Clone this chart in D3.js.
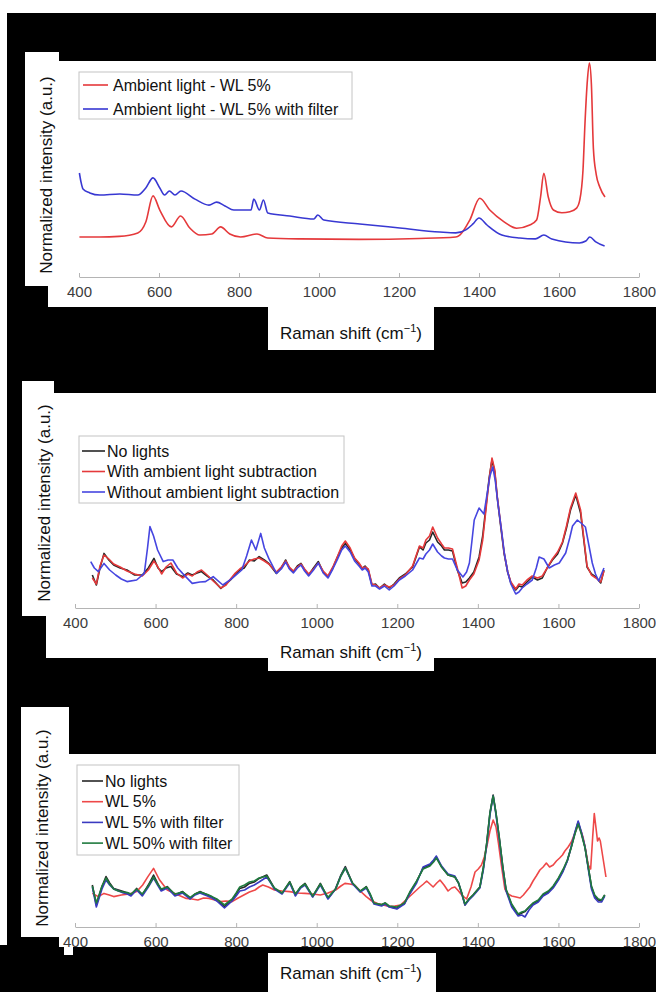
<!DOCTYPE html>
<html>
<head>
<meta charset="utf-8">
<script src="https://cdn.jsdelivr.net/npm/d3@7"></script>
<style>
  body { margin: 0; background: #000; }
  svg { display: block; }
  text { font-family: "Liberation Sans", Arial, sans-serif; }
</style>
</head>
<body>
<svg width="656" height="992"></svg>
<script>
// ---- data (x = Raman shift in cm-1, v = normalized intensity) ----
const xTicks = [400, 600, 800, 1000, 1200, 1400, 1600, 1800];

const p1Labels = ["Ambient light - WL 5%", "Ambient light - WL 5% with filter"];
const p1Red = [[401,0.187],[452,0.187],[500,0.19],[547,0.206],[567,0.257],[585,0.379],[602,0.313],[631,0.234],[654,0.285],[677,0.229],[702,0.196],[732,0.201],[754,0.234],[777,0.201],[804,0.187],[845,0.201],[872,0.182],[952,0.178],[1100,0.176],[1250,0.18],[1342,0.187],[1352,0.196],[1377,0.266],[1402,0.368],[1427,0.313],[1461,0.26],[1494,0.228],[1527,0.243],[1544,0.266],[1554,0.375],[1562,0.485],[1573,0.375],[1586,0.313],[1607,0.3],[1627,0.305],[1644,0.322],[1652,0.36],[1660,0.5],[1665,0.72],[1671,0.92],[1676,1.0],[1681,0.9],[1686,0.6],[1693,0.48],[1702,0.42],[1715,0.374]];
const p1Blue = [[401,0.486],[405,0.444],[410,0.411],[427,0.393],[452,0.383],[502,0.388],[547,0.383],[567,0.416],[585,0.463],[602,0.416],[614,0.383],[626,0.402],[640,0.383],[655,0.402],[690,0.364],[725,0.336],[744,0.35],[765,0.332],[787,0.313],[830,0.313],[837,0.364],[851,0.313],[861,0.36],[872,0.299],[927,0.285],[987,0.271],[997,0.29],[1012,0.266],[1102,0.248],[1202,0.229],[1302,0.21],[1342,0.206],[1367,0.22],[1385,0.248],[1400,0.276],[1420,0.243],[1457,0.196],[1502,0.182],[1541,0.178],[1562,0.196],[1582,0.178],[1651,0.159],[1667,0.168],[1677,0.187],[1692,0.164],[1714,0.145]];

const p2Labels = ["No lights", "With ambient light subtraction", "Without ambient light subtraction"];
const p2Black = [[443,0.165],[453,0.115],[462,0.2],[472,0.273],[484,0.24],[496,0.215],[512,0.2],[529,0.19],[548,0.165],[567,0.165],[582,0.2],[596,0.248],[606,0.2],[615,0.182],[626,0.2],[638,0.207],[652,0.17],[667,0.157],[680,0.175],[691,0.165],[703,0.175],[714,0.182],[728,0.16],[743,0.14],[762,0.098],[775,0.12],[786,0.14],[798,0.17],[809,0.19],[820,0.2],[833,0.24],[845,0.235],[857,0.257],[870,0.24],[881,0.223],[900,0.173],[912,0.2],[923,0.24],[932,0.2],[942,0.182],[952,0.21],[961,0.223],[970,0.19],[980,0.165],[992,0.2],[1004,0.232],[1016,0.18],[1028,0.157],[1040,0.2],[1052,0.257],[1062,0.3],[1071,0.323],[1083,0.29],[1094,0.248],[1105,0.22],[1113,0.198],[1120,0.21],[1128,0.19],[1137,0.115],[1146,0.12],[1156,0.098],[1168,0.12],[1180,0.1],[1192,0.12],[1205,0.15],[1220,0.17],[1238,0.205],[1255,0.305],[1264,0.29],[1271,0.325],[1280,0.34],[1288,0.38],[1300,0.33],[1310,0.31],[1317,0.29],[1327,0.29],[1337,0.285],[1349,0.19],[1361,0.125],[1370,0.13],[1379,0.15],[1390,0.18],[1403,0.255],[1412,0.36],[1420,0.505],[1428,0.65],[1435,0.74],[1442,0.68],[1448,0.555],[1456,0.42],[1465,0.275],[1474,0.18],[1482,0.125],[1494,0.09],[1502,0.11],[1510,0.105],[1522,0.13],[1535,0.155],[1548,0.14],[1560,0.15],[1572,0.2],[1585,0.24],[1598,0.27],[1610,0.325],[1620,0.4],[1630,0.49],[1643,0.565],[1655,0.475],[1663,0.34],[1671,0.205],[1682,0.17],[1693,0.155],[1705,0.125],[1713,0.19]];
const p2Red = [[443,0.15],[453,0.12],[462,0.21],[472,0.265],[484,0.245],[496,0.22],[512,0.205],[529,0.185],[548,0.17],[567,0.16],[582,0.19],[596,0.235],[606,0.205],[615,0.17],[626,0.205],[638,0.225],[652,0.175],[667,0.15],[680,0.17],[691,0.16],[703,0.18],[714,0.19],[728,0.165],[743,0.135],[762,0.1],[775,0.115],[786,0.145],[798,0.175],[809,0.195],[820,0.21],[833,0.235],[845,0.245],[857,0.25],[870,0.235],[881,0.22],[900,0.18],[912,0.205],[923,0.235],[932,0.205],[942,0.185],[952,0.205],[961,0.22],[970,0.195],[980,0.17],[992,0.195],[1004,0.225],[1016,0.185],[1028,0.16],[1040,0.205],[1052,0.26],[1062,0.31],[1071,0.335],[1083,0.3],[1094,0.25],[1105,0.225],[1113,0.2],[1120,0.205],[1128,0.195],[1137,0.12],[1146,0.115],[1156,0.1],[1168,0.115],[1180,0.105],[1192,0.115],[1205,0.145],[1220,0.165],[1238,0.21],[1255,0.31],[1264,0.3],[1271,0.34],[1280,0.36],[1288,0.405],[1300,0.35],[1310,0.32],[1317,0.3],[1327,0.3],[1337,0.295],[1349,0.2],[1361,0.1],[1370,0.11],[1379,0.14],[1390,0.17],[1403,0.24],[1412,0.34],[1420,0.49],[1428,0.64],[1435,0.75],[1442,0.69],[1448,0.56],[1456,0.43],[1465,0.28],[1474,0.18],[1482,0.13],[1494,0.095],[1502,0.12],[1510,0.115],[1522,0.14],[1535,0.16],[1548,0.15],[1560,0.16],[1572,0.2],[1585,0.245],[1598,0.28],[1610,0.33],[1620,0.41],[1630,0.5],[1643,0.575],[1655,0.49],[1663,0.35],[1671,0.21],[1682,0.165],[1693,0.15],[1705,0.13],[1713,0.185]];
const p2Blue = [[439,0.232],[448,0.2],[458,0.182],[472,0.223],[486,0.19],[501,0.165],[515,0.145],[529,0.132],[553,0.14],[572,0.173],[580,0.3],[586,0.407],[595,0.36],[605,0.29],[619,0.232],[631,0.24],[643,0.24],[655,0.2],[667,0.173],[691,0.123],[710,0.13],[724,0.132],[743,0.157],[767,0.115],[790,0.148],[814,0.19],[826,0.26],[838,0.34],[849,0.29],[861,0.373],[870,0.3],[881,0.248],[900,0.173],[912,0.195],[923,0.23],[932,0.195],[942,0.175],[952,0.2],[961,0.215],[970,0.185],[980,0.16],[992,0.19],[1004,0.225],[1016,0.175],[1028,0.15],[1040,0.195],[1052,0.245],[1062,0.29],[1071,0.31],[1083,0.28],[1094,0.235],[1105,0.21],[1113,0.19],[1120,0.2],[1128,0.18],[1137,0.11],[1146,0.11],[1156,0.095],[1168,0.11],[1180,0.09],[1192,0.11],[1205,0.14],[1220,0.16],[1238,0.19],[1255,0.25],[1264,0.245],[1271,0.27],[1280,0.29],[1288,0.32],[1300,0.28],[1310,0.26],[1317,0.25],[1327,0.245],[1337,0.245],[1349,0.19],[1363,0.155],[1372,0.18],[1379,0.225],[1385,0.33],[1391,0.44],[1403,0.5],[1415,0.47],[1423,0.57],[1430,0.66],[1437,0.705],[1443,0.64],[1450,0.52],[1458,0.4],[1466,0.27],[1474,0.18],[1482,0.12],[1494,0.07],[1502,0.08],[1510,0.1],[1522,0.12],[1535,0.14],[1545,0.2],[1552,0.255],[1564,0.245],[1577,0.2],[1590,0.215],[1602,0.225],[1618,0.275],[1628,0.35],[1635,0.41],[1647,0.44],[1659,0.42],[1667,0.405],[1675,0.32],[1684,0.225],[1692,0.17],[1700,0.135],[1713,0.2]];

const p3Labels = ["No lights", "WL 5%", "WL 5% with filter", "WL 50% with filter"];
const p3Black = [[443,0.21],[453,0.11],[467,0.202],[477,0.252],[486,0.22],[496,0.193],[508,0.185],[520,0.177],[530,0.17],[539,0.16],[553,0.193],[567,0.16],[582,0.21],[595,0.26],[605,0.22],[614,0.185],[629,0.202],[648,0.16],[667,0.177],[686,0.143],[698,0.165],[710,0.177],[729,0.16],[740,0.15],[752,0.135],[771,0.102],[790,0.135],[800,0.165],[809,0.193],[821,0.2],[833,0.218],[845,0.225],[857,0.243],[876,0.26],[886,0.225],[895,0.193],[914,0.168],[933,0.227],[947,0.16],[960,0.2],[971,0.218],[990,0.152],[1009,0.218],[1028,0.143],[1047,0.193],[1060,0.26],[1071,0.302],[1089,0.218],[1108,0.177],[1123,0.202],[1133,0.16],[1142,0.118],[1161,0.11],[1170,0.12],[1180,0.102],[1199,0.093],[1210,0.11],[1218,0.118],[1231,0.17],[1248,0.227],[1264,0.295],[1281,0.31],[1290,0.33],[1297,0.35],[1310,0.3],[1326,0.26],[1343,0.25],[1352,0.22],[1360,0.17],[1368,0.11],[1378,0.14],[1388,0.16],[1405,0.2],[1414,0.3],[1422,0.42],[1430,0.57],[1438,0.66],[1445,0.57],[1453,0.45],[1462,0.3],[1470,0.185],[1484,0.11],[1500,0.06],[1509,0.07],[1517,0.077],[1527,0.1],[1537,0.118],[1550,0.13],[1562,0.16],[1575,0.175],[1587,0.2],[1600,0.24],[1612,0.285],[1622,0.33],[1632,0.4],[1641,0.47],[1649,0.525],[1657,0.47],[1666,0.4],[1674,0.3],[1682,0.2],[1690,0.155],[1699,0.135],[1707,0.13],[1715,0.16]];
const p3Red = [[443,0.168],[458,0.152],[472,0.168],[485,0.16],[496,0.152],[515,0.16],[535,0.165],[553,0.177],[568,0.21],[581,0.252],[595,0.293],[610,0.235],[629,0.185],[648,0.168],[662,0.155],[676,0.143],[690,0.14],[705,0.135],[719,0.145],[733,0.143],[747,0.135],[761,0.127],[775,0.13],[790,0.127],[805,0.145],[819,0.16],[833,0.175],[847,0.185],[857,0.2],[866,0.21],[880,0.2],[895,0.185],[914,0.18],[933,0.177],[952,0.17],[971,0.168],[990,0.165],[1009,0.16],[1028,0.17],[1047,0.185],[1060,0.205],[1070,0.218],[1082,0.215],[1094,0.21],[1108,0.18],[1123,0.152],[1137,0.13],[1151,0.118],[1165,0.11],[1180,0.102],[1194,0.105],[1208,0.11],[1224,0.14],[1240,0.17],[1256,0.2],[1265,0.215],[1273,0.23],[1281,0.215],[1289,0.2],[1298,0.22],[1306,0.235],[1316,0.21],[1326,0.18],[1335,0.195],[1343,0.2],[1352,0.18],[1360,0.16],[1372,0.14],[1383,0.2],[1393,0.275],[1401,0.29],[1409,0.31],[1416,0.35],[1422,0.4],[1430,0.48],[1438,0.535],[1445,0.5],[1451,0.42],[1459,0.3],[1467,0.19],[1475,0.165],[1484,0.155],[1495,0.15],[1505,0.145],[1513,0.16],[1521,0.18],[1529,0.2],[1537,0.23],[1545,0.255],[1554,0.285],[1562,0.3],[1570,0.32],[1578,0.3],[1587,0.31],[1595,0.33],[1603,0.345],[1610,0.36],[1616,0.38],[1624,0.4],[1632,0.425],[1641,0.47],[1649,0.51],[1656,0.48],[1661,0.45],[1668,0.38],[1674,0.31],[1680,0.29],[1685,0.45],[1689,0.567],[1693,0.5],[1697,0.43],[1701,0.445],[1704,0.43],[1711,0.34],[1718,0.25]];
const p3Blue = [[443,0.2],[453,0.1],[467,0.19],[477,0.235],[486,0.21],[496,0.19],[508,0.18],[520,0.17],[530,0.165],[539,0.155],[553,0.185],[567,0.155],[582,0.2],[595,0.245],[605,0.21],[614,0.18],[629,0.195],[648,0.155],[667,0.17],[686,0.14],[698,0.16],[710,0.17],[729,0.155],[740,0.145],[752,0.13],[771,0.095],[790,0.13],[800,0.155],[809,0.18],[821,0.185],[833,0.2],[845,0.21],[857,0.225],[876,0.25],[886,0.22],[895,0.19],[914,0.165],[933,0.22],[947,0.155],[960,0.195],[971,0.21],[990,0.15],[1009,0.21],[1028,0.14],[1047,0.19],[1060,0.255],[1071,0.295],[1089,0.215],[1108,0.175],[1123,0.195],[1133,0.155],[1142,0.115],[1161,0.105],[1170,0.115],[1180,0.1],[1199,0.09],[1210,0.105],[1218,0.115],[1231,0.165],[1248,0.22],[1264,0.3],[1281,0.315],[1290,0.335],[1297,0.355],[1310,0.305],[1326,0.265],[1343,0.255],[1352,0.22],[1360,0.165],[1368,0.11],[1378,0.135],[1388,0.155],[1405,0.195],[1414,0.29],[1422,0.41],[1430,0.56],[1438,0.655],[1445,0.56],[1453,0.44],[1462,0.29],[1470,0.18],[1484,0.1],[1500,0.055],[1509,0.06],[1517,0.05],[1527,0.085],[1537,0.11],[1550,0.125],[1562,0.155],[1575,0.17],[1587,0.195],[1600,0.235],[1612,0.28],[1622,0.33],[1632,0.405],[1641,0.475],[1649,0.53],[1657,0.475],[1666,0.4],[1674,0.29],[1682,0.19],[1690,0.145],[1699,0.125],[1707,0.125],[1715,0.155]];
const p3Green = [[443,0.205],[453,0.12],[467,0.205],[477,0.245],[486,0.215],[496,0.19],[508,0.18],[520,0.175],[530,0.172],[539,0.165],[553,0.19],[567,0.165],[582,0.205],[595,0.25],[605,0.215],[614,0.19],[629,0.2],[648,0.165],[667,0.175],[686,0.148],[698,0.165],[710,0.175],[729,0.162],[740,0.152],[752,0.14],[771,0.11],[790,0.14],[800,0.17],[809,0.2],[821,0.21],[833,0.225],[845,0.23],[857,0.245],[876,0.255],[886,0.222],[895,0.195],[914,0.17],[933,0.225],[947,0.165],[960,0.2],[971,0.215],[990,0.155],[1009,0.215],[1028,0.148],[1047,0.19],[1060,0.255],[1071,0.295],[1089,0.22],[1108,0.18],[1123,0.2],[1133,0.165],[1142,0.12],[1161,0.112],[1170,0.12],[1180,0.105],[1199,0.1],[1210,0.112],[1218,0.122],[1231,0.175],[1248,0.23],[1264,0.29],[1281,0.305],[1290,0.325],[1297,0.345],[1310,0.3],[1326,0.26],[1343,0.25],[1352,0.22],[1360,0.17],[1368,0.115],[1378,0.14],[1388,0.16],[1405,0.2],[1414,0.3],[1422,0.42],[1430,0.57],[1438,0.655],[1445,0.57],[1453,0.45],[1462,0.3],[1470,0.19],[1484,0.115],[1500,0.065],[1509,0.075],[1517,0.08],[1527,0.1],[1537,0.12],[1550,0.135],[1562,0.165],[1575,0.18],[1587,0.205],[1600,0.245],[1612,0.29],[1622,0.335],[1632,0.4],[1641,0.465],[1649,0.515],[1657,0.465],[1666,0.395],[1674,0.3],[1682,0.205],[1690,0.16],[1699,0.14],[1707,0.135],[1715,0.16]];

// ---- layout ----
const RED = "#e5393b", BLUE = "#3838d2", BLACK = "#262626", GREEN = "#1f7a3e";

const panels = [
  { // top
    xr: [79, 639], base: 277, top: 63,
    white: [[25,52,34,234],[59,61,597,225],[48,276,608,31],[268,300,166,50]],
    series: [p1Red, p1Blue], colors: [RED, BLUE], labels: p1Labels, curve: d3.curveMonotoneX,
    legend: { x: 79, y: 72, w: 273, h: 47, row0: 85, dy: 24, l0: 83, l1: 108, tx: 113 },
    ylab: [46, 175], xlab: [351, 333]
  },
  { // middle
    xr: [75, 639], base: 608, top: 408,
    white: [[22,381,32,235],[54,393,602,265],[46,600,610,58],[268,650,166,21]],
    series: [p2Black, p2Red, p2Blue], colors: [BLACK, RED, "#4646e0"], labels: p2Labels, curve: d3.curveLinear,
    legend: { x: 79, y: 436, w: 265, h: 67, row0: 451, dy: 20.5, l0: 82, l1: 105, tx: 107 },
    ylab: [44, 503], xlab: [351, 652]
  },
  { // bottom
    xr: [75, 639], base: 927, top: 727,
    white: [[21,707,48,230],[69,754,587,193],[59,900,597,47],[64,940,9,15],[268,953,168,39]],
    series: [p3Black, p3Red, p3Blue, p3Green], colors: [BLACK, "#ee4848", "#3a3ac0", GREEN], labels: p3Labels, curve: d3.curveLinear,
    legend: { x: 77, y: 765, w: 162, h: 90, row0: 781, dy: 20.7, l0: 82, l1: 103, tx: 105 },
    ylab: [42, 828], xlab: [351, 973]
  }
];

const svg = d3.select("svg");
svg.append("rect").attr("width", 656).attr("height", 992).attr("fill", "#000");
// white page margin round the black backdrop
svg.append("rect").attr("x", 0).attr("y", 0).attr("width", 656).attr("height", 13).attr("fill", "#fff");
svg.append("rect").attr("x", 0).attr("y", 0).attr("width", 7).attr("height", 945).attr("fill", "#fff");

panels.forEach(p => {
  const g = svg.append("g");

  // white patches of the panel
  g.selectAll("rect.bg").data(p.white).join("rect")
    .attr("class", "bg")
    .attr("x", d => d[0]).attr("y", d => d[1])
    .attr("width", d => d[2]).attr("height", d => d[3])
    .attr("fill", "#fff");

  const x = d3.scaleLinear().domain([400, 1800]).range(p.xr);
  const y = d3.scaleLinear().domain([0, 1]).range([p.base, p.top]);

  // x axis, ticks pointing inwards
  const axis = g.append("g")
    .attr("transform", `translate(0,${p.base})`)
    .call(d3.axisBottom(x).tickValues(xTicks).tickFormat(d3.format("d"))
      .tickSizeInner(-4).tickSizeOuter(0).tickPadding(9));
  axis.select(".domain").attr("stroke", "#b4b4b4");
  axis.selectAll(".tick line").attr("stroke", "#b4b4b4");
  axis.selectAll(".tick text")
    .attr("fill", "#3c3c3c")
    .attr("font-size", 15)
    .attr("font-family", "'Liberation Sans', Arial, sans-serif");

  const line = d3.line().x(d => x(d[0])).y(d => y(d[1])).curve(p.curve);

  g.selectAll("path.trace").data(p.series).join("path")
    .attr("class", "trace")
    .attr("d", line)
    .attr("fill", "none")
    .attr("stroke", (d, i) => p.colors[i])
    .attr("stroke-width", 1.6)
    .attr("stroke-linejoin", "round");

  // legend
  const L = p.legend;
  g.append("rect")
    .attr("x", L.x).attr("y", L.y).attr("width", L.w).attr("height", L.h)
    .attr("fill", "#fff").attr("stroke", "#c4c4c4").attr("stroke-width", 1);
  const rows = g.selectAll("g.lg").data(p.labels).join("g")
    .attr("class", "lg")
    .attr("transform", (d, i) => `translate(0,${L.row0 + i * L.dy})`);
  rows.append("line")
    .attr("x1", L.l0).attr("x2", L.l1)
    .attr("stroke", (d, i) => p.colors[i]).attr("stroke-width", 1.6);
  rows.append("text")
    .attr("x", L.tx).attr("dy", "0.35em")
    .attr("font-size", 16).attr("fill", "#111")
    .text(d => d);

  // axis titles
  g.append("text")
    .attr("transform", `translate(${p.ylab[0]},${p.ylab[1]}) rotate(-90)`)
    .attr("text-anchor", "middle").attr("dy", "0.35em")
    .attr("font-size", 17).attr("fill", "#111")
    .text("Normalized intensity (a.u.)");

  const xt = g.append("text")
    .attr("x", p.xlab[0]).attr("y", p.xlab[1]).attr("dy", "0.35em")
    .attr("text-anchor", "middle").attr("font-size", 17).attr("fill", "#111");
  xt.append("tspan").text("Raman shift (cm");
  xt.append("tspan").attr("dy", -7).attr("font-size", 11).text("\u22121");
  xt.append("tspan").attr("dy", 7).text(")");
});
</script>
</body>
</html>
